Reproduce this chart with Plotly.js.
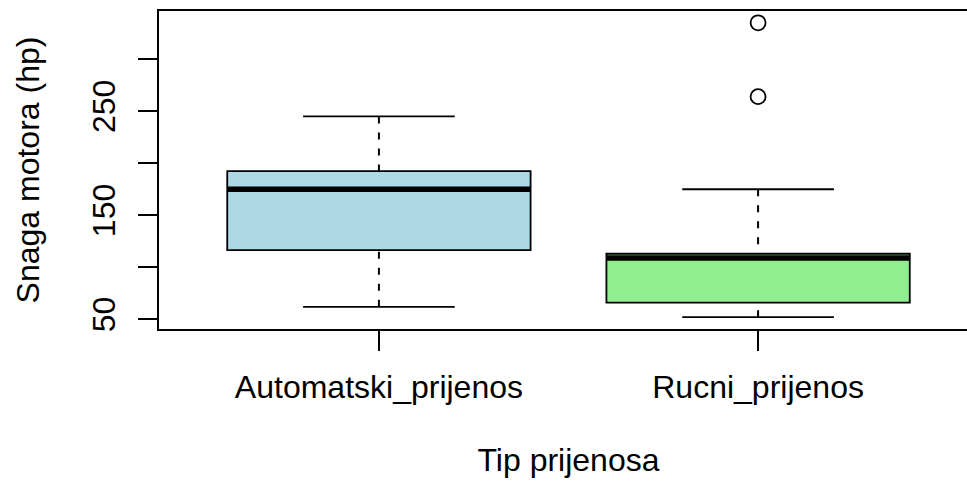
<!DOCTYPE html>
<html>
<head>
<meta charset="utf-8">
<script src="https://cdn.plot.ly/plotly-3.0.1.min.js"></script>
<style>html,body{margin:0;padding:0;overflow:hidden;background:#fff;}</style>
</head>
<body>
<div id="chart"></div>
<script>
// ---- data (hp by transmission type) ----
const categories = ["Automatski_prijenos", "Rucni_prijenos"];
const lowerWhisker = [62, 52];
const q1 = [116.5, 66];
const median = [175, 109];
const q3 = [192.5, 113];
const upperWhisker = [245, 175];
const outlierGroup = ["Rucni_prijenos", "Rucni_prijenos"];
const outlierValues = [264, 335];
const boxColors = ["#ADD8E6", "#90EE90"];
const yTickValues = [50, 100, 150, 200, 250, 300];
const yTickLabels = ["50", "", "150", "", "250", ""];

// ---- styles ----
const BOX_W = 0.8, CAP_W = 0.4;
const FONT = {family: "Liberation Sans, Arial, sans-serif", size: 32, color: "#000"};
const pos = categories.map((c, i) => i + 1);

const traces = [];
categories.forEach((c, i) => {
  const x = pos[i];
  // box body
  traces.push({
    type: "box", x: [x], q1: [q1[i]], median: [median[i]], q3: [q3[i]],
    lowerfence: [q1[i]], upperfence: [q3[i]],
    width: BOX_W, whiskerwidth: 0, fillcolor: boxColors[i],
    line: {color: "#000", width: 1.8}, hoverinfo: "skip", showlegend: false
  });
  // dashed whiskers (drawn from the whisker end towards the box)
  traces.push({
    type: "scatter", mode: "lines", x: [x, x, null, x, x],
    y: [lowerWhisker[i], q1[i], null, upperWhisker[i], q3[i]],
    line: {color: "#000", width: 2, dash: "7px,9px"}, showlegend: false, hoverinfo: "skip"
  });
  // caps
  traces.push({
    type: "scatter", mode: "lines",
    x: [x - CAP_W / 2, x + CAP_W / 2, null, x - CAP_W / 2, x + CAP_W / 2],
    y: [lowerWhisker[i], lowerWhisker[i], null, upperWhisker[i], upperWhisker[i]],
    line: {color: "#000", width: 1.8}, showlegend: false, hoverinfo: "skip"
  });
  // median thick line
  traces.push({
    type: "scatter", mode: "lines",
    x: [x - BOX_W / 2, x + BOX_W / 2], y: [median[i], median[i]],
    line: {color: "#000", width: 5.5}, showlegend: false, hoverinfo: "skip"
  });
});
// outliers
traces.push({
  type: "scatter", mode: "markers",
  x: outlierGroup.map(g => pos[categories.indexOf(g)]), y: outlierValues,
  marker: {symbol: "circle-open", size: 15, color: "#000", line: {width: 1.8, color: "#000"}},
  showlegend: false, hoverinfo: "skip"
});

const layout = {
  width: 990, height: 483,
  margin: {l: 159, r: 12, t: 11, b: 154},
  paper_bgcolor: "#fff", plot_bgcolor: "#fff",
  font: FONT, showlegend: false,
  xaxis: {
    type: "linear", range: [0.42, 2.58], tickvals: pos, ticktext: categories,
    ticks: "outside", ticklen: 20, tickwidth: 2, tickcolor: "#000",
    showgrid: false, zeroline: false, showline: true, linecolor: "#000", linewidth: 2, mirror: true,
    tickfont: FONT, ticklabelstandoff: 9,
    title: {text: "Tip prijenosa", font: FONT, standoff: 44}
  },
  yaxis: {
    type: "linear", range: [40.68, 346.32], tickvals: yTickValues, ticktext: yTickLabels,
    ticks: "outside", ticklen: 19, tickwidth: 2, tickcolor: "#000", tickangle: -90,
    showgrid: false, zeroline: false, showline: true, linecolor: "#000", linewidth: 2, mirror: true,
    tickfont: FONT, ticklabelstandoff: 10,
    title: {text: "Snaga motora (hp)", font: FONT, standoff: 37}
  }
};

Plotly.newPlot("chart", traces, layout, {staticPlot: true, displayModeBar: false});
</script>
</body>
</html>
